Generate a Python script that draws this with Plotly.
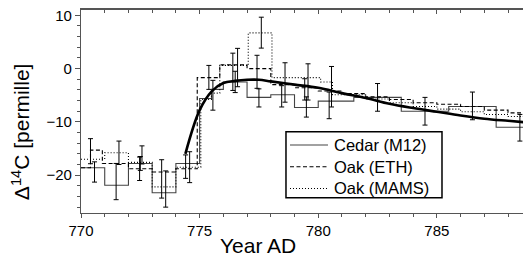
import plotly.graph_objects as go

# ---- data ----
cedar_edges = [770, 771, 772, 773, 774, 775, 775.5, 776, 777, 778, 779, 780, 781.5, 783.5, 785.5, 787.5, 789.5]
cedar_vals = [-18.6, -21.9, -17.8, -23.3, -17.8, -5.6, -3.9, -2.5, -5.4, -4.9, -7.3, -6.1, -5.4, -8.0, -7.1, -11.0]
cedar_bx = [770.57, 771.48, 772.5, 773.57, 774.41, 775.56, 776.5, 777.5, 778.46, 779.5, 780.46, 782.5, 784.5, 786.5, 788.5]
cedar_by = [-19.4, -21.2, -17.8, -22.6, -18.4, -5.0, -2.5, -5.5, -5.2, -7.2, -6.9, -5.4, -8.0, -7.0, -11.1]
cedar_be = [1.9, 3.4, 1.3, 3.4, 2.2, 2.8, 2.0, 1.7, 2.0, 1.9, 2.5, 2.6, 2.6, 2.6, 2.5]

eth_edges = [770, 770.4, 770.9, 772, 773, 774, 774.9, 775.85, 777, 778, 779, 780, 781, 782, 783, 784, 785, 786, 787, 788, 789]
eth_vals = [-18.6, -15.3, -17.8, -18.8, -19.4, -18.8, -1.7, 0.7, 0.0, -3.0, -3.6, -4.2, -4.7, -5.3, -5.8, -6.4, -6.7, -7.1, -7.8, -8.3]
eth_bx = [770.4, 772.47, 773.4, 774.58, 775.39, 776.4, 777.42, 778.6, 779.43]
eth_by = [-15.5, -18.8, -20.7, -18.5, -1.65, -0.6, -0.6, -2.6, -3.9]
eth_be = [2.35, 2.2, 3.6, 2.9, 2.25, 3.5, 3.1, 3.7, 2.0]

mams_edges = [770, 771, 772, 773, 774, 775.05, 775.5, 775.85, 777.05, 778.05, 780.1, 780.6, 782, 783, 784, 785, 786, 787, 788, 789]
mams_vals = [-17.0, -15.8, -17.6, -22.2, -18.5, -5.8, -4.6, 0.6, 6.7, -1.7, -2.5, -4.9, -5.7, -6.4, -7.1, -7.6, -8.1, -8.6, -9.0]
mams_bx = [771.6, 772.57, 776.6, 777.6, 779.57, 780.56]
mams_by = [-15.8, -16.2, 0.2, 6.75, -2.5, -3.4]
mams_be = [2.2, 1.7, 3.6, 2.9, 3.4, 3.8]

model_x = [774.4, 775.0, 775.5, 776.0, 776.5, 777.0, 777.5, 778.0, 779.0, 780.0, 781.0, 782.0, 783.0, 784.0, 785.0, 786.0, 787.0, 788.0, 788.8]
model_y = [-16.0, -7.8, -4.3, -2.7, -2.3, -2.1, -2.1, -2.4, -3.0, -3.6, -4.6, -5.5, -6.6, -7.4, -8.1, -8.8, -9.4, -9.8, -10.1]

series_names = ["Cedar (M12)", "Oak (ETH)", "Oak (MAMS)"]
x_ticks = [770, 775, 780, 785]
y_ticks = [-20, -10, 0, 10]

FONT = "Arial, Liberation Sans, sans-serif"


def step(edges, vals):
    return list(edges), list(vals) + [vals[-1]]


fig = go.Figure()

styles = [("solid", "#444"), ("4px,2.5px", "black"), ("1px,2px", "black")]
for name, (e, v), (dash, col) in zip(series_names,
                                     [(cedar_edges, cedar_vals), (eth_edges, eth_vals), (mams_edges, mams_vals)],
                                     styles):
    sx, sy = step(e, v)
    fig.add_trace(go.Scatter(x=sx, y=sy, mode="lines", line_shape="hv", name=name,
                             showlegend=False, line=dict(color=col, width=1.1, dash=dash)))

fig.add_trace(go.Scatter(x=model_x, y=model_y, mode="lines", showlegend=False,
                         line=dict(color="black", width=2.6, shape="spline")))

for bx, by, be in [(cedar_bx, cedar_by, cedar_be), (eth_bx, eth_by, eth_be), (mams_bx, mams_by, mams_be)]:
    fig.add_trace(go.Scatter(x=bx, y=by, mode="markers", showlegend=False,
                             marker=dict(size=0.1, color="black"),
                             error_y=dict(type="data", array=be, visible=True,
                                          color="black", thickness=1, width=2.5)))

# trace on top axis so it is drawn
fig.add_trace(go.Scatter(x=[770], y=[None], xaxis="x2", showlegend=False, hoverinfo="skip"))

# ---- hand-drawn legend box (paper coords) ----
shapes = [dict(type="rect", xref="paper", yref="paper", x0=0.4596, x1=0.8094,
               y0=0.0754, y1=0.4005, line=dict(color="black", width=1.5),
               fillcolor="white", layer="above")]
annotations = []
row_y = [0.335, 0.228, 0.121]
for name, (dash, col), ry in zip(series_names, styles, row_y):
    shapes.append(dict(type="line", xref="paper", yref="paper", x0=0.4686, x1=0.5538,
                       y0=ry, y1=ry, line=dict(color=col, width=1.1, dash=dash), layer="above"))
    annotations.append(dict(text=name, xref="paper", yref="paper", x=0.563, y=ry,
                            xanchor="left", yanchor="middle", showarrow=False,
                            font=dict(size=16.5, family=FONT, color="black")))

annotations += [
    dict(text="Year AD", xref="paper", yref="paper", x=0.397, y=-0.158,
         xanchor="center", yanchor="middle", showarrow=False,
         font=dict(size=21, family=FONT)),
    dict(text="Δ<sup>14</sup>C [permille]", xref="paper", yref="paper",
         x=-0.136, y=0.40, xanchor="center", yanchor="middle", textangle=-90,
         showarrow=False, font=dict(size=21, family=FONT)),
]

axis_col = "#555"
# page body has an 8px margin; figure sized to fit the 531x257 window
fig.update_layout(
    width=523, height=249,
    margin=dict(l=73, r=4, t=2, b=44, autoexpand=False),
    paper_bgcolor="white", plot_bgcolor="white",
    font=dict(family=FONT, size=15, color="black"),
    showlegend=False,
    xaxis=dict(range=[770, 788.8], tickvals=x_ticks, ticks="outside", ticklen=4,
               tickcolor=axis_col, showline=True, linecolor=axis_col, linewidth=1.2,
               showgrid=False, zeroline=False, automargin=False, ticklabeloverflow="allow",
               minor=dict(dtick=1, ticks="outside", ticklen=3, tickcolor=axis_col)),
    xaxis2=dict(range=[770, 788.8], overlaying="x", side="top", tickvals=x_ticks,
                ticks="inside", ticklen=4, tickcolor=axis_col, showline=True,
                linecolor=axis_col, linewidth=1.5, showticklabels=False,
                showgrid=False, zeroline=False, automargin=False,
                minor=dict(dtick=1, ticks="inside", ticklen=3, tickcolor=axis_col)),
    yaxis=dict(range=[-27.1, 11], tickvals=y_ticks, ticks="outside", ticklen=5,
               tickcolor=axis_col, showline=True, linecolor=axis_col, linewidth=1.2,
               mirror="ticks", showgrid=False, zeroline=False, automargin=False,
               ticklabeloverflow="allow",
               minor=dict(dtick=2, ticks="outside", ticklen=3, tickcolor=axis_col)),
    shapes=shapes,
    annotations=annotations,
)

fig.write_html("out.html")
